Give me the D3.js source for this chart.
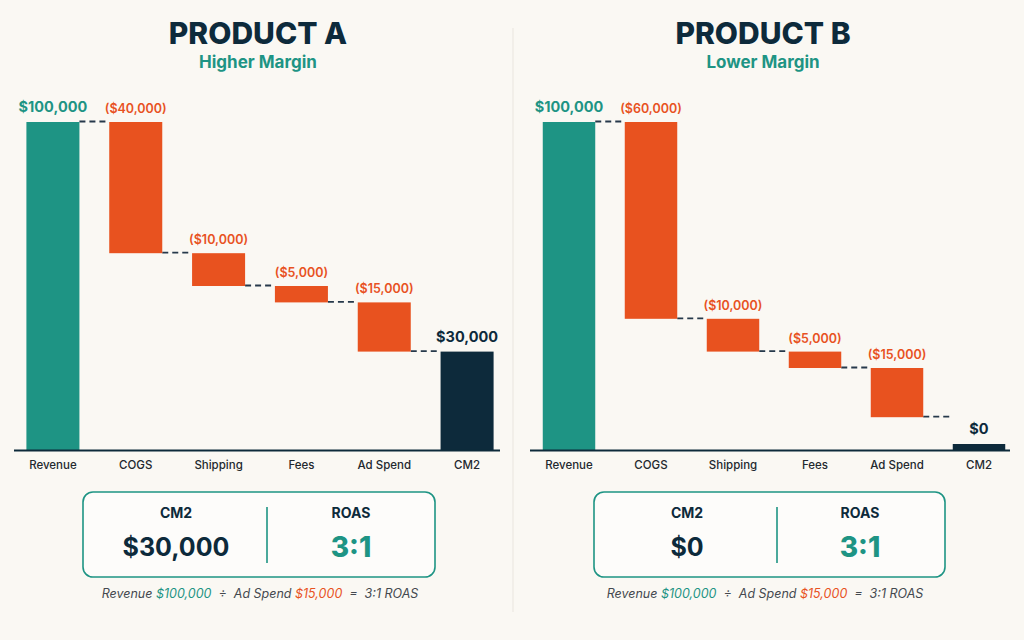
<!DOCTYPE html>
<html>
<head>
<meta charset="utf-8">
<script src="https://cdn.jsdelivr.net/npm/d3@7"></script>
<style>
  html, body { margin: 0; padding: 0; background: #faf8f3; }
  svg { display: block; font-family: Inter, "Noto Sans", sans-serif; }
</style>
</head>
<body>
<div id="chart"></div>
<script>
// data
var categories = ['Revenue', 'COGS', 'Shipping', 'Fees', 'Ad Spend', 'CM2'];
var productAValues = [100000, -40000, -10000, -5000, -15000, 30000];
var productBValues = [100000, -60000, -10000, -5000, -15000, 0];
var panelTitles = ['PRODUCT A', 'PRODUCT B'];
var panelSubtitles = ['Higher Margin', 'Lower Margin'];
var cm2Text = ['$30,000', '$0'];
var roasText = ['3:1', '3:1'];
var footRevenue = ['$100,000', '$100,000'];
var footAdSpend = ['$15,000', '$15,000'];

var teal = '#1e9484', orange = '#e8521f', navy = '#0d2a3b';
var width = 1024, height = 640;

var svg = d3.select('#chart').append('svg')
    .attr('width', width)
    .attr('height', height);

svg.append('rect').attr('width', width).attr('height', height).attr('fill', '#faf8f3');

// panel divider
svg.append('line')
    .attr('x1', 513).attr('x2', 513).attr('y1', 28).attr('y2', 612)
    .attr('stroke', '#e9e5de').attr('stroke-width', 1);

var panels = [
    {values: productAValues, range: [11.5, 508.5], axis: [14, 500], center: 258, box: [83, 435], cm2x: 176, divx: 267, roasx: 351},
    {values: productBValues, range: [528, 1020], axis: [530, 1010], center: 763, box: [594, 945], cm2x: 687, divx: 777, roasx: 860}
];

var fmt = d3.format(',');
function money(v){
    return v < 0 ? '($' + fmt(-v) + ')' : '$' + fmt(v);
}

panels.forEach(function(p, i){
    var g = svg.append('g');

    var x = d3.scaleBand().domain(categories).range(p.range).paddingInner(0.36).paddingOuter(0.18);
    var y = d3.scaleLinear().domain([0, 100000]).range([450, 122]);

    // waterfall steps
    var running = 0;
    var steps = p.values.map(function(v, j){
        var d = {cat: categories[j], value: v};
        if (j == 0) { d.start = 0; d.end = v; d.type = 'total'; running = v; }
        else if (j == categories.length - 1) { d.start = 0; d.end = v; d.type = 'result'; }
        else { d.start = running; d.end = running + v; d.type = 'cost'; running = running + v; }
        return d;
    });

    // titles
    g.append('text').attr('x', p.center).attr('y', 44).attr('text-anchor', 'middle')
        .attr('font-size', 30).attr('font-weight', 800).attr('fill', navy)
        .text(panelTitles[i]);
    g.append('text').attr('x', p.center).attr('y', 68).attr('text-anchor', 'middle')
        .attr('font-size', 17).attr('font-weight', 700).attr('fill', teal)
        .text(panelSubtitles[i]);

    // connectors
    g.selectAll('.conn').data(steps.slice(0, -1)).join('line')
        .attr('x1', (d, j) => x(categories[j]) + x.bandwidth())
        .attr('x2', (d, j) => x(categories[j + 1]))
        .attr('y1', d => y(d.end) - 0.5)
        .attr('y2', d => y(d.end) - 0.5)
        .attr('stroke', '#26394b')
        .attr('stroke-width', 1.8)
        .attr('stroke-dasharray', '6,4');

    // bars
    g.selectAll('.bar').data(steps).join('rect')
        .attr('x', d => x(d.cat))
        .attr('width', x.bandwidth())
        .attr('y', function(d){
            var top = y(Math.max(d.start, d.end));
            var h = Math.abs(y(d.start) - y(d.end));
            return h < 6 ? y(0) - 6 : top;
        })
        .attr('height', function(d){
            return Math.max(Math.abs(y(d.start) - y(d.end)), 6);
        })
        .attr('fill', d => d.type == 'total' ? teal : d.type == 'cost' ? orange : navy);

    // value labels
    g.selectAll('.val').data(steps).join('text')
        .attr('x', d => x(d.cat) + x.bandwidth() / 2)
        .attr('y', function(d){
            var top = Math.min(y(Math.max(d.start, d.end)), y(0) - 6);
            return top - (d.type == 'cost' ? 9 : 10);
        })
        .attr('text-anchor', 'middle')
        .attr('font-size', d => d.type == 'cost' ? 12.5 : 14.5)
        .attr('font-weight', d => d.type == 'cost' ? 600 : 700)
        .attr('fill', d => d.type == 'total' ? teal : d.type == 'cost' ? orange : navy)
        .text(d => money(d.value));

    // baseline + category labels
    g.append('line')
        .attr('x1', p.axis[0]).attr('x2', p.axis[1])
        .attr('y1', y(0) + 0.5).attr('y2', y(0) + 0.5)
        .attr('stroke', navy).attr('stroke-width', 2);
    g.selectAll('.cat').data(categories).join('text')
        .attr('x', d => x(d) + x.bandwidth() / 2)
        .attr('y', 469)
        .attr('text-anchor', 'middle')
        .attr('font-size', 11.5)
        .attr('font-weight', 500)
        .attr('fill', '#23282e')
        .text(d => d);

    // summary box
    g.append('rect')
        .attr('x', p.box[0]).attr('y', 492)
        .attr('width', p.box[1] - p.box[0]).attr('height', 85)
        .attr('rx', 10)
        .attr('fill', '#fdfcfa')
        .attr('stroke', teal).attr('stroke-width', 1.6);
    g.append('line')
        .attr('x1', p.divx).attr('x2', p.divx).attr('y1', 507).attr('y2', 563)
        .attr('stroke', teal).attr('stroke-width', 1.6);
    g.append('text').attr('x', p.cm2x).attr('y', 518).attr('text-anchor', 'middle')
        .attr('font-size', 14).attr('font-weight', 700).attr('fill', navy).text('CM2');
    g.append('text').attr('x', p.cm2x).attr('y', 556).attr('text-anchor', 'middle')
        .attr('font-size', 25).attr('font-weight', 700).attr('fill', navy).text(cm2Text[i]);
    g.append('text').attr('x', p.roasx).attr('y', 518).attr('text-anchor', 'middle')
        .attr('font-size', 14).attr('font-weight', 700).attr('fill', navy).text('ROAS');
    g.append('text').attr('x', p.roasx).attr('y', 557).attr('text-anchor', 'middle')
        .attr('font-size', 28).attr('font-weight', 800).attr('fill', teal).text(roasText[i]);

    // footnote
    var foot = g.append('text').attr('x', p.center + 2).attr('y', 598).attr('text-anchor', 'middle')
        .attr('font-size', 12.5).attr('font-style', 'italic').attr('fill', '#44494f');
    foot.append('tspan').text('Revenue ');
    foot.append('tspan').attr('fill', teal).text(footRevenue[i]);
    foot.append('tspan').text('  \u00f7  Ad Spend ');
    foot.append('tspan').attr('fill', orange).text(footAdSpend[i]);
    foot.append('tspan').text('  =  ' + roasText[i] + ' ROAS');
    foot.attr('xml:space', 'preserve').style('white-space', 'pre');
});
</script>
</body>
</html>
